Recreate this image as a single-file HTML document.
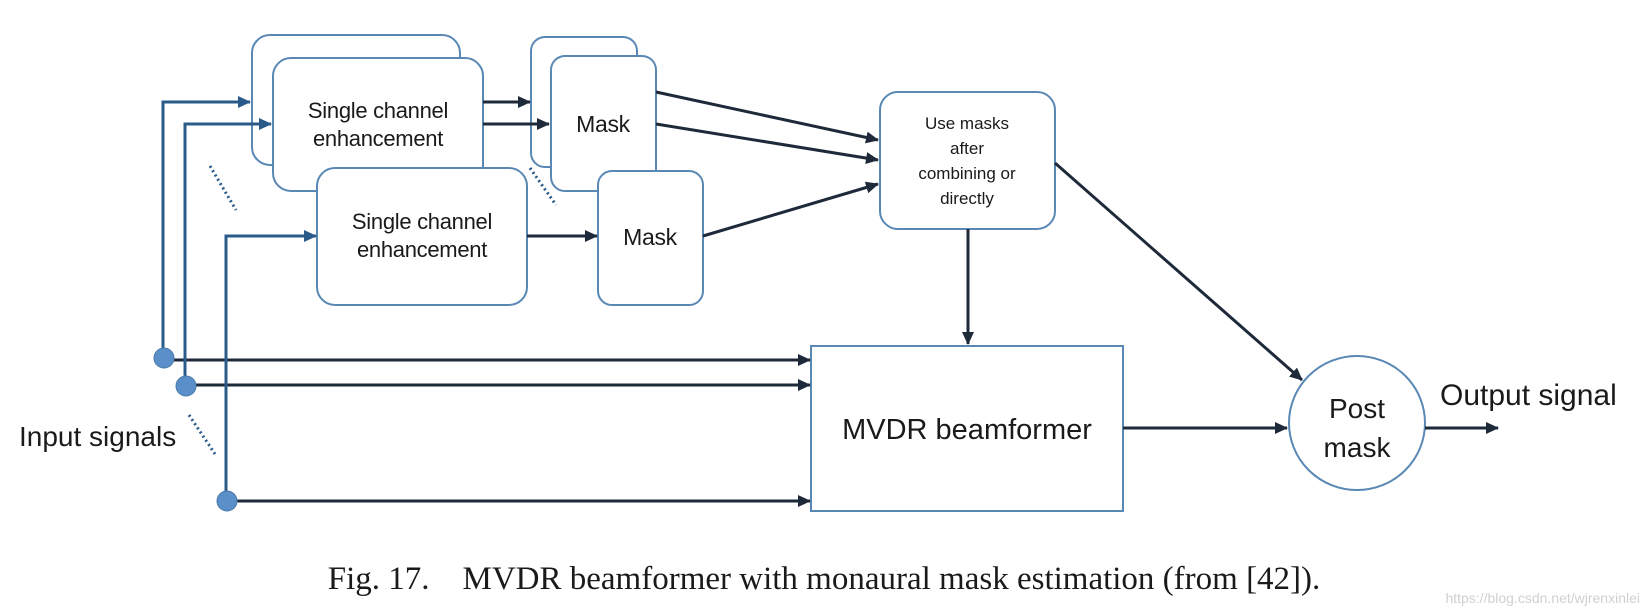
<!DOCTYPE html>
<html><head><meta charset="utf-8"><style>
html,body{margin:0;padding:0;background:#fff;}
svg{display:block;}
text{font-family:"Liberation Sans",sans-serif;fill:#1a1a1a;}
</style></head><body>
<svg width="1646" height="616" viewBox="0 0 1646 616" xmlns="http://www.w3.org/2000/svg">
<defs>
<marker id="a" markerWidth="13" markerHeight="12" refX="12" refY="6" orient="auto" markerUnits="userSpaceOnUse"><path d="M0,0 L13,6 L0,12 Z" fill="#1e2a3a"/></marker>
<marker id="b" markerWidth="13" markerHeight="12" refX="12" refY="6" orient="auto" markerUnits="userSpaceOnUse"><path d="M0,0 L13,6 L0,12 Z" fill="#2a5a8a"/></marker>
</defs>
<g fill="#fff" stroke="#5a88b5" stroke-width="2">
<rect x="252" y="35" width="208" height="130" rx="18"/>
<rect x="273" y="58" width="210" height="133" rx="18"/>
<rect x="531" y="37" width="106" height="130" rx="14"/>
<rect x="551" y="56" width="105" height="135" rx="14"/>
<rect x="317" y="168" width="210" height="137" rx="18"/>
<rect x="598" y="171" width="105" height="134" rx="14"/>
<rect x="880" y="92" width="175" height="137" rx="18"/>
<rect x="811" y="346" width="312" height="165"/>
<ellipse cx="1357" cy="423" rx="68" ry="67"/>
</g>
<g font-size="22" text-anchor="middle" letter-spacing="-0.3">
<text x="378" y="118">Single channel</text>
<text x="378" y="146">enhancement</text>
<text x="422" y="229">Single channel</text>
<text x="422" y="257">enhancement</text>
<text x="603" y="132" font-size="23">Mask</text>
<text x="650" y="245" font-size="23">Mask</text>
</g>
<g font-size="17" text-anchor="middle">
<text x="967" y="129">Use masks</text>
<text x="967" y="154">after</text>
<text x="967" y="179">combining  or</text>
<text x="967" y="204">directly</text>
</g>
<text x="967" y="439" font-size="29" text-anchor="middle">MVDR beamformer</text>
<text x="1357" y="418" font-size="28" text-anchor="middle">Post</text>
<text x="1357" y="457" font-size="28" text-anchor="middle">mask</text>
<text x="1440" y="405" font-size="30">Output signal</text>
<text x="19" y="446" font-size="28">Input signals</text>
<g stroke="#1e2a3a" stroke-width="3" fill="none" marker-end="url(#a)">
<line x1="483" y1="102" x2="530" y2="102"/>
<line x1="483" y1="124" x2="549" y2="124"/>
<line x1="527" y1="236" x2="597" y2="236"/>
<line x1="656" y1="92" x2="878" y2="140"/>
<line x1="656" y1="124" x2="878" y2="160"/>
<line x1="703" y1="236" x2="878" y2="184"/>
<line x1="968" y1="229" x2="968" y2="344"/>
<line x1="1055" y1="163" x2="1302" y2="380"/>
<line x1="1123" y1="428" x2="1287" y2="428"/>
<line x1="1425" y1="428" x2="1498" y2="428"/>
<line x1="163" y1="360" x2="810" y2="360"/>
<line x1="185" y1="385" x2="810" y2="385"/>
<line x1="226" y1="501" x2="810" y2="501"/>
</g>
<g stroke="#2a5a8a" stroke-width="3" fill="none" marker-end="url(#b)">
<polyline points="163,357 163,102 250,102"/>
<polyline points="185,386 185,124 271,124"/>
<polyline points="226,501 226,236 316,236"/>
</g>
<g fill="#5b8fc9" stroke="#4a7aa8" stroke-width="1">
<circle cx="164" cy="358" r="10"/>
<circle cx="186" cy="386" r="10"/>
<circle cx="227" cy="501" r="10"/>
</g>
<g stroke="#2a5a8a" stroke-width="3" stroke-dasharray="2,3">
<line x1="210" y1="166" x2="236" y2="210"/>
<line x1="530" y1="168" x2="556" y2="205"/>
<line x1="189" y1="415" x2="215" y2="454"/>
</g>
<text x="824" y="589" font-size="33" text-anchor="middle" style="font-family:'Liberation Serif',serif" xml:space="preserve">Fig. 17.    MVDR beamformer with monaural mask estimation (from [42]).</text>
<text x="1640" y="603" font-size="14" text-anchor="end" style="fill:#d0d0d0">https://blog.csdn.net/wjrenxinlei</text>
</svg>
</body></html>
